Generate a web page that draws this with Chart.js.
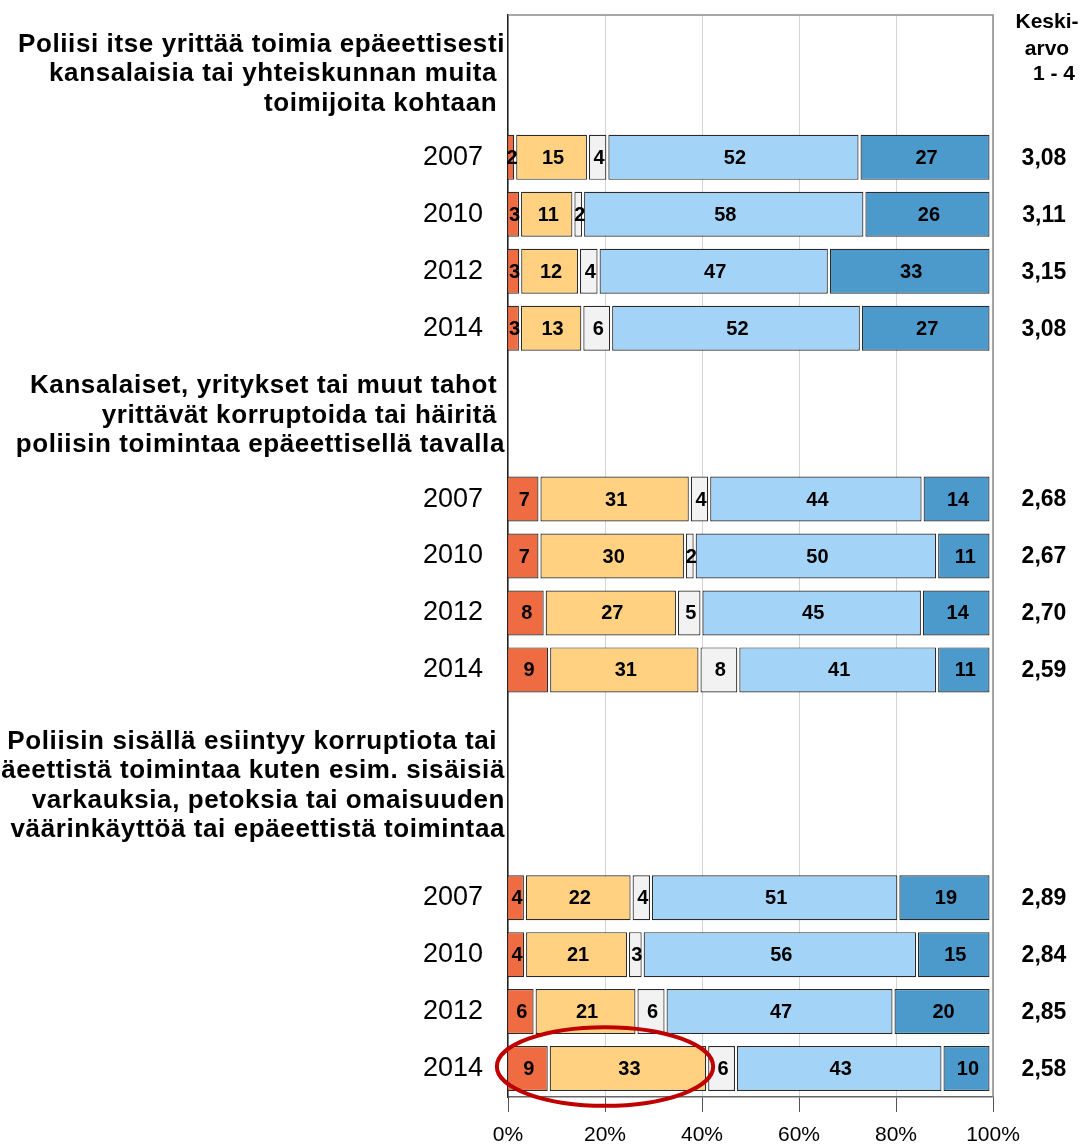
<!DOCTYPE html>
<html>
<head>
<meta charset="utf-8">
<script src="https://cdn.jsdelivr.net/npm/chart.js@4.4.0/dist/chart.umd.min.js"></script>
<style>
  html, body { margin: 0; padding: 0; background: #fff; }
  canvas { display: block; }
</style>
</head>
<body>
<canvas id="chart" width="1081" height="1144"></canvas>
<script>
// survey years shown in every group
const years = ['2007', '2010', '2012', '2014'];

// group headings (one entry per question), and how many empty rows each heading takes
const groupTitles = [
  ['Poliisi itse yrittää toimia epäeettisesti', 'kansalaisia tai yhteiskunnan muita ', 'toimijoita kohtaan '],
  ['Kansalaiset, yritykset tai muut tahot ', 'yrittävät korruptoida tai häiritä ', 'poliisin toimintaa epäeettisellä tavalla'],
  ['Poliisin sisällä esiintyy korruptiota tai ', 'epäeettistä toimintaa kuten esim. sisäisiä', 'varkauksia, petoksia tai omaisuuden', 'väärinkäyttöä tai epäeettistä toimintaa']
];
const titleRowCounts = [2, 2, 3];

// answer shares in % (4 years per group, 3 groups)
const answer1 = [2, 3, 3, 3,   7, 7, 8, 9,     4, 4, 6, 9];
const answer2 = [15, 11, 12, 13, 31, 30, 27, 31, 22, 21, 21, 33];
const answer3 = [4, 2, 4, 6,   4, 2, 5, 8,     4, 3, 6, 6];
const answer4 = [52, 58, 47, 52, 44, 50, 45, 41, 51, 56, 47, 43];
const answer5 = [27, 26, 33, 27, 14, 11, 14, 11, 19, 15, 20, 10];

// mean on scale 1 - 4
const averages = ['3,08', '3,11', '3,15', '3,08', '2,68', '2,67', '2,70', '2,59', '2,89', '2,84', '2,85', '2,58'];

const xTicks = [0, 20, 40, 60, 80, 100];

const colors = ['#EF6B41', '#FFD181', '#F2F2F2', '#A3D3F7', '#4B9ACB'];
const FONT = "'Liberation Sans', Arial, sans-serif";

// build the row layout: heading rows (empty label) followed by the year rows
const rowLabels = [];
const barRows = [];     // row index for each bar
const titleRows = [];   // list of row indices per heading
groupTitles.forEach((lines, g) => {
  const rows = [];
  for (let i = 0; i < titleRowCounts[g]; i++) { rows.push(rowLabels.length); rowLabels.push(''); }
  titleRows.push(rows);
  years.forEach(y => { barRows.push(rowLabels.length); rowLabels.push(y); });
});

const series = [answer1, answer2, answer3, answer4, answer5];
// 100 % stacked: each bar scaled by its own total
const totals = answer1.map((_, i) => series.reduce((s, arr) => s + arr[i], 0));

function toRows(arr, scale) {
  const out = rowLabels.map(() => null);
  arr.forEach((v, i) => { out[barRows[i]] = scale ? v / totals[i] * 100 : v; });
  return out;
}

const datasets = series.map((arr, k) => ({
  label: 'answer' + (k + 1),
  data: toRows(arr, true),
  raw: toRows(arr, false),
  backgroundColor: colors[k],
  borderColor: '#2b2b2b',
  borderWidth: 1.2,
  borderSkipped: false,
  barPercentage: 0.79,
  categoryPercentage: 1
}));

// small white gaps between the stacked segments
const gapPlugin = {
  id: 'gaps',
  beforeDatasetDraw(chart, args) {
    args.meta.data.forEach(bar => {
      bar._keep = [bar.x, bar.base];
      bar.x -= 3.5;
      bar.base -= 1.5;
    });
  },
  afterDatasetDraw(chart, args) {
    args.meta.data.forEach(bar => {
      if (bar._keep) { bar.x = bar._keep[0]; bar.base = bar._keep[1]; }
    });
  }
};

const framePlugin = {
  id: 'frame',
  beforeDatasetsDraw(chart) {
    const { ctx, chartArea: a } = chart;
    ctx.save();
    ctx.strokeStyle = '#8a8a8a';
    ctx.lineWidth = 1.5;
    ctx.beginPath();
    ctx.moveTo(a.left, a.top);
    ctx.lineTo(a.right, a.top);
    ctx.lineTo(a.right, a.bottom);
    ctx.stroke();
    ctx.restore();
  }
};

const textPlugin = {
  id: 'texts',
  afterDatasetsDraw(chart) {
    const ctx = chart.ctx;
    const yScale = chart.scales.y;
    ctx.save();
    // value labels inside the segments
    ctx.font = 'bold 20px ' + FONT;
    ctx.fillStyle = '#000';
    ctx.textAlign = 'center';
    ctx.textBaseline = 'middle';
    chart.data.datasets.forEach((ds, di) => {
      chart.getDatasetMeta(di).data.forEach((bar, i) => {
        if (ds.raw[i] == null) return;
        const p = bar.getCenterPoint();
        ctx.fillText(String(ds.raw[i]), p.x - 1, p.y + 1);
      });
    });

    // averages column
    ctx.font = 'bold 23px ' + FONT;
    barRows.forEach((r, i) => {
      ctx.fillText(averages[i], 1044, yScale.getPixelForValue(r) + 1);
    });

    // header of the averages column
    ctx.font = 'bold 21px ' + FONT;
    ctx.textBaseline = 'alphabetic';
    ctx.fillText('Keski-', 1047, 28);
    ctx.fillText('arvo', 1047, 55);
    ctx.fillText('1 - 4', 1054, 80);

    // group headings
    ctx.font = 'bold 26px ' + FONT;
    ctx.letterSpacing = '0.6px';
    ctx.textAlign = 'right';
    ctx.textBaseline = 'middle';
    const lh = 29.5;
    groupTitles.forEach((lines, g) => {
      const rows = titleRows[g];
      const mid = (yScale.getPixelForValue(rows[0]) + yScale.getPixelForValue(rows[rows.length - 1])) / 2;
      lines.forEach((t, j) => {
        ctx.fillText(t, 505, mid + 2 + (j - (lines.length - 1) / 2) * lh);
      });
    });
    ctx.restore();
  },
  afterDraw(chart) {
    // red ellipse around the last bar of the last group
    const { ctx } = chart;
    const x = chart.scales.x, y = chart.scales.y;
    const cx = x.getPixelForValue(20);
    const rx = x.getPixelForValue(22.3) - x.getPixelForValue(0);
    const row = barRows[barRows.length - 1];
    const cy = y.getPixelForValue(row) - 2;
    const ry = (y.getPixelForValue(1) - y.getPixelForValue(0)) * 0.69;
    ctx.save();
    ctx.strokeStyle = '#C00000';
    ctx.lineWidth = 4;
    ctx.beginPath();
    ctx.ellipse(cx, cy, rx, ry, 0, 0, Math.PI * 2);
    ctx.stroke();
    ctx.restore();
  }
};

Chart.defaults.font.family = FONT;
Chart.defaults.color = '#000';

new Chart(document.getElementById('chart'), {
  type: 'bar',
  data: { labels: rowLabels, datasets },
  options: {
    indexAxis: 'y',
    responsive: false,
    animation: false,
    layout: { padding: { top: 15, right: 88, left: 0, bottom: 0 } },
    plugins: { legend: { display: false }, tooltip: { enabled: false } },
    scales: {
      x: {
        stacked: true,
        min: 0,
        max: 100,
        afterBuildTicks: s => { s.ticks = xTicks.map(v => ({ value: v })); },
        afterFit: s => { s.height = 47; s.paddingLeft = 0; s.paddingRight = 0; },
        ticks: { callback: v => v + '%', font: { size: 21 }, color: '#000', padding: 11, maxRotation: 0 },
        grid: { color: '#d4d4d4', lineWidth: 1, tickColor: '#555', tickLength: 15 },
        border: { display: true, color: '#666', width: 1.5 }
      },
      y: {
        stacked: true,
        afterFit: s => { s.width = 508; s.paddingTop = 0; s.paddingBottom = 0; },
        ticks: { autoSkip: false, font: { size: 27 }, color: '#000', padding: 25 },
        grid: { display: false, drawTicks: false },
        border: { display: true, color: '#222', width: 1.5 }
      }
    }
  },
  plugins: [gapPlugin, framePlugin, textPlugin]
});
</script>
</body>
</html>
